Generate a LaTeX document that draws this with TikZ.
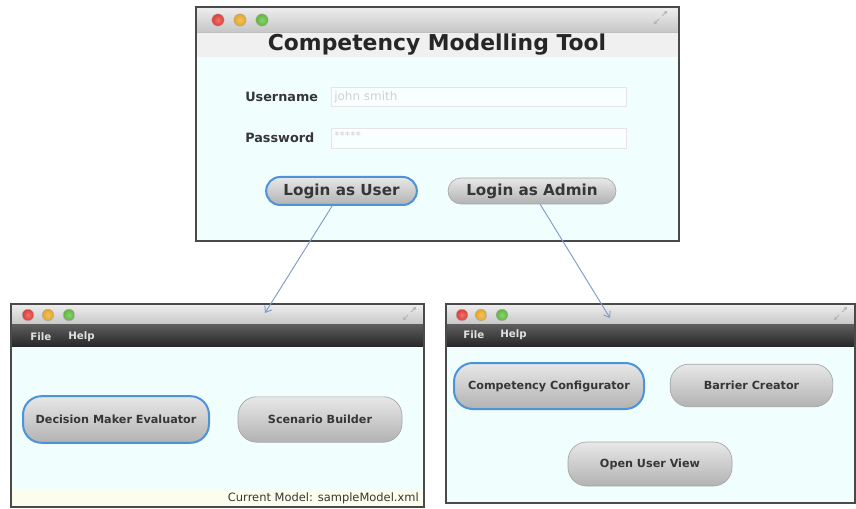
\documentclass[tikz,border=0pt]{standalone}
\usepackage{fontspec}
\setmainfont{DejaVu Sans}
\usetikzlibrary{arrows.meta,calc}
\definecolor{winborder}{HTML}{4A4A4A}
\definecolor{bodycol}{HTML}{F0FEFE}
\definecolor{tbtop}{HTML}{EEEEEE}
\definecolor{tbbot}{HTML}{C6C6C6}
\definecolor{menutop}{HTML}{5C5C5C}
\definecolor{menubot}{HTML}{262626}
\definecolor{btntop}{HTML}{E8E8E8}
\definecolor{btnbot}{HTML}{B2B2B2}
\definecolor{btnline}{HTML}{A6A6A6}
\definecolor{focusblue}{HTML}{4C93DA}
\definecolor{conncol}{HTML}{7F9CC8}
\definecolor{textcol}{HTML}{363636}
\definecolor{macred}{HTML}{E23A34}
\definecolor{macyellow}{HTML}{E8A622}
\definecolor{macgreen}{HTML}{5EB83A}
\definecolor{statuscol}{HTML}{FDFDEE}
\tikzset{
  winframe/.style={draw=winborder, line width=1.5pt},
  titlebar/.style={top color=tbtop, bottom color=tbbot},
  menubar/.style={top color=menutop, bottom color=menubot},
  bodyarea/.style={fill=bodycol},
  btn/.style={draw=btnline, line width=0.5pt, top color=btntop, bottom color=btnbot,
    font=\bfseries, text=textcol, inner sep=0pt},
  focused/.style={draw=focusblue, line width=1.5pt},
  field/.style={draw=black!10, fill=white!60!bodycol, line width=0.5pt},
  menutext/.style={text=black!12, font=\bfseries\fontsize{7.7}{9}\selectfont, anchor=west, inner sep=0pt},
  conn/.style={draw=conncol, line width=0.7pt, -{Straight Barb[length=4pt,width=6pt]}},
  light/.style={line width=0.3pt, draw=black!35},
  redlight/.style={light, inner color=macred!70!white, outer color=macred},
  yellowlight/.style={light, inner color=macyellow!70!white, outer color=macyellow},
  greenlight/.style={light, inner color=macgreen!70!white, outer color=macgreen},
  resize/.style={draw=black!30, line width=0.7pt, -{Stealth[length=2.5pt,width=3pt]}},
}
\begin{document}
\begin{tikzpicture}[x=0.75pt,y=-0.75pt]
\useasboundingbox (0,0) rectangle (856,509);
\fill[white] (0,0) rectangle (856,509);

% ---------------- top window ----------------
\fill[bodyarea] (196,57) rectangle (679,241);
\fill[titlebar] (196,7) rectangle (679,32);
\fill[fill=black!6] (196,32) rectangle (679,57);
\draw[black!25, line width=0.4pt] (196,32) -- (679,32);
\draw[winframe] (196,7) rectangle (679,241);
\shade[redlight] (218,20) circle[radius=4.6pt];
\shade[yellowlight] (240,20) circle[radius=4.6pt];
\shade[greenlight] (262,20) circle[radius=4.6pt];
\draw[resize] (662,16) -- (667,11);
\draw[resize] (659,19) -- (654,24);

\node[font=\bfseries\fontsize{16.4}{19}\selectfont, text=black!85] (title) at (437,45) {Competency Modelling Tool};

\node[anchor=west, font=\bfseries\fontsize{9.6}{11}\selectfont, text=textcol, inner sep=0pt] (ulab) at (245,97) {Username};
\node[anchor=west, font=\bfseries\fontsize{9.6}{11}\selectfont, text=textcol, inner sep=0pt] (plab) at (245,138) {Password};
\draw[field] (331,87) rectangle (626,106);
\draw[field] (331,128) rectangle (626,148);
\node[anchor=west, font=\fontsize{9}{11}\selectfont, text=black!18, inner sep=0pt] (uval) at (334,97) {john smith};
\node[anchor=west, font=\fontsize{8}{10}\selectfont, text=black!18, inner sep=0pt] (pval) at (334,136) {*****};

\node[btn, focused, minimum width=113pt, minimum height=21pt, rounded corners=10.5pt,
  font=\bfseries\fontsize{11.4}{14}\selectfont] (lu) at (341.5,191) {Login as User};
\node[btn, minimum width=126pt, minimum height=19.5pt, rounded corners=9.75pt,
  font=\bfseries\fontsize{11.4}{14}\selectfont] (la) at (532,191) {Login as Admin};

% ---------------- bottom-left window ----------------
\fill[bodyarea] (11,347) rectangle (424,507);
\fill[statuscol] (11,489) rectangle (424,506);
\fill[titlebar] (11,304) rectangle (424,325);
\fill[menubar] (11,325) rectangle (424,347);
\draw[winframe] (11,304) rectangle (424,507);
\shade[redlight] (28,315) circle[radius=4.3pt];
\shade[yellowlight] (48,315) circle[radius=4.3pt];
\shade[greenlight] (69,315) circle[radius=4.3pt];
\draw[resize] (411,312) -- (416,307);
\draw[resize] (408,315) -- (403,320);
\node[menutext] (f1) at (30,337) {File};
\node[menutext] (h1) at (68,337) {Help};

\node[btn, focused, minimum width=139.5pt, minimum height=35pt, rounded corners=14pt,
  font=\bfseries\fontsize{8.4}{10}\selectfont] (dme) at (116,419.5) {Decision Maker Evaluator};
\node[btn, minimum width=123pt, minimum height=34pt, rounded corners=14pt,
  font=\bfseries\fontsize{8.4}{10}\selectfont] (sb) at (320,419.5) {Scenario Builder};
\node[anchor=east, font=\fontsize{8.6}{10}\selectfont, text=textcol, inner sep=0pt] (status) at (419,498) {Current Model: sampleModel.xml};

% ---------------- bottom-right window ----------------
\fill[bodyarea] (446,347) rectangle (855,503);
\fill[titlebar] (446,304) rectangle (855,325);
\fill[menubar] (446,325) rectangle (855,347);
\draw[winframe] (446,304) rectangle (855,503);
\shade[redlight] (462,315) circle[radius=4.3pt];
\shade[yellowlight] (481,315) circle[radius=4.3pt];
\shade[greenlight] (502,315) circle[radius=4.3pt];
\draw[resize] (842,312) -- (847,307);
\draw[resize] (839,315) -- (834,320);
\node[menutext] (f2) at (463,335) {File};
\node[menutext] (h2) at (500,335) {Help};

\node[btn, focused, minimum width=142.5pt, minimum height=34.5pt, rounded corners=14pt,
  font=\bfseries\fontsize{8.4}{10}\selectfont] (cc) at (549,386) {Competency Configurator};
\node[btn, minimum width=122pt, minimum height=32pt, rounded corners=14pt,
  font=\bfseries\fontsize{8.4}{10}\selectfont] (bc) at (751.5,385.5) {Barrier Creator};
\node[btn, minimum width=123pt, minimum height=33pt, rounded corners=14pt,
  font=\bfseries\fontsize{8.4}{10}\selectfont] (ouv) at (650,464) {Open User View};

% ---------------- connectors ----------------
\coordinate (t1) at (265,313);
\coordinate (t2) at (610,318);
\draw[conn] (lu) -- (t1);
\draw[conn] (la) -- (t2);
\end{tikzpicture}
\end{document}
